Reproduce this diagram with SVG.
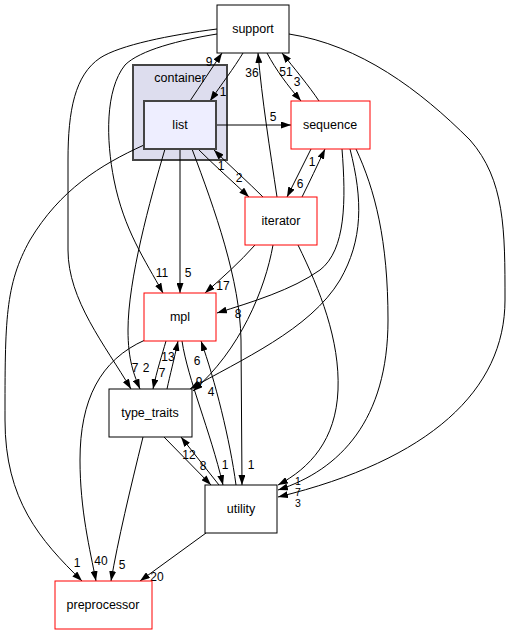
<svg xmlns="http://www.w3.org/2000/svg" width="512" height="635" viewBox="0 0 512 635">
<defs>
<marker id="ah" viewBox="0 0 10 7" refX="10" refY="3.5" markerWidth="10" markerHeight="7" markerUnits="userSpaceOnUse" orient="auto">
<path d="M0,0 L10,3.5 L0,7 z" fill="#000"/>
</marker>
<style>
.e{fill:none;stroke:#000;stroke-width:1;marker-end:url(#ah)}
.n{fill:#fff;stroke:#000;stroke-width:1}
.r{fill:#fff;stroke:#ff0000;stroke-width:1}
.t{font-family:"Liberation Sans",Arial,sans-serif;font-size:12.5px;text-anchor:middle;fill:#000}
.l{font-family:"Liberation Sans",Arial,sans-serif;font-size:12px;text-anchor:middle;fill:#000}
.s{font-family:"Liberation Sans",Arial,sans-serif;font-size:10.5px;text-anchor:middle;fill:#000}
</style>
</defs>
<rect width="512" height="635" fill="#fff"/>
<g id="cluster_container">
<rect x="133" y="65" width="94" height="95" fill="#ddddee" stroke="#444" stroke-width="2"/>
<text class="t" x="180" y="82">container</text>
</g>
<g id="connectors">
<path class="e" d="M190,101 C200,86 212,68 222,53"/>
<path class="e" d="M243,53 C234,68 221,85 210,101"/>
<path class="e" d="M277,197 C270,150 262,100 258,53"/>
<path class="e" d="M267,53 C276,70 288,86 301,101"/>
<path class="e" d="M319,101 C309,86 294,68 282,53"/>
<path class="e" d="M216,125 L291,125"/>
<path class="e" d="M263,197 C248,182 230,166 214,150"/>
<path class="e" d="M198,149 C214,165 232,181 249,197"/>
<path class="e" d="M302,197 C310,181 317,166 325,149"/>
<path class="e" d="M311,149 C303,165 295,181 287,197"/>
<path class="e" d="M180,149 L180,293"/>
<path class="e" d="M217,34 C180,40 140,50 125,65 C105,90 106,140 114,180 C124,230 145,260 163,293"/>
<path class="e" d="M217,29 C170,35 120,45 100,58 C75,75 68,110 68,160 L68,250 C68,300 105,345 131,389"/>
<path class="e" d="M165,149 C150,200 128,280 128,330 C128,360 134,375 140,389"/>
<path class="e" d="M144,145 C100,165 60,190 30,240 C5,285 5,320 5,420 C5,500 40,540 82,581"/>
<path class="e" d="M145,340 C100,360 80,400 80,460 C80,510 90,550 96,581"/>
<path class="e" d="M143,437 C130,490 118,540 111,581"/>
<path class="e" d="M206,533 L140,581"/>
<path class="e" d="M255,245 C240,262 222,278 205,293"/>
<path class="e" d="M342,149 C346,200 346,250 320,270 C292,290 252,302 217,313"/>
<path class="e" d="M350,149 C363,200 363,240 340,280 C310,330 240,360 190,389"/>
<path class="e" d="M273,245 C265,290 240,350 193,391"/>
<path class="e" d="M356,149 C375,190 388,240 388,320 C388,420 340,470 278,490"/>
<path class="e" d="M298,245 C320,290 340,340 338,390 C336,440 310,468 278,485"/>
<path class="e" d="M289,34 C360,45 420,90 470,140 C505,180 505,230 505,300 C505,390 430,460 278,497"/>
<path class="e" d="M166,341 C162,355 157,370 153,389"/>
<path class="e" d="M167,389 C170,375 174,360 178,341"/>
<path class="e" d="M182,341 C188,380 210,430 223,485"/>
<path class="e" d="M236,485 C230,440 215,380 201,341"/>
<path class="e" d="M192,149 C215,210 240,280 241,340 L242,485"/>
<path class="e" d="M164,437 L211,485"/>
<path class="e" d="M219,485 L181,437"/>
<text class="l" x="209" y="66">9</text>
<text class="l" x="223" y="96">1</text>
<text class="l" x="252" y="77">36</text>
<text class="l" x="286" y="76">51</text>
<text class="l" x="297" y="86">3</text>
<text class="l" x="273" y="121">5</text>
<text class="l" x="221" y="170">1</text>
<text class="l" x="239" y="182">2</text>
<text class="l" x="312" y="166">1</text>
<text class="l" x="300" y="188">6</text>
<text class="l" x="188" y="277">5</text>
<text class="l" x="162" y="277">11</text>
<text class="l" x="223" y="290">17</text>
<text class="l" x="238" y="318">8</text>
<text class="l" x="135" y="372">7</text>
<text class="l" x="146" y="372">2</text>
<text class="l" x="162" y="377">7</text>
<text class="l" x="168" y="361">13</text>
<text class="l" x="197" y="365">6</text>
<text class="l" x="199" y="386">9</text>
<text class="l" x="211" y="396">4</text>
<text class="l" x="189" y="459">12</text>
<text class="l" x="203" y="470">8</text>
<text class="l" x="225" y="469">1</text>
<text class="l" x="251" y="469">1</text>
<text class="s" x="298" y="485">1</text>
<text class="s" x="298" y="496">7</text>
<text class="s" x="298" y="507">3</text>
<text class="l" x="77" y="567">1</text>
<text class="l" x="101" y="565">40</text>
<text class="l" x="122" y="569">5</text>
<text class="l" x="157" y="581">20</text>
</g>
<g id="support"><rect class="n" x="217" y="5" width="72" height="48"/><text class="t" x="253" y="33">support</text></g>
<g id="list"><rect x="144" y="101" width="72" height="48" fill="#eeeeff" stroke="#444" stroke-width="2"/><text class="t" x="180" y="129">list</text></g>
<g id="sequence"><rect class="r" x="291" y="101" width="79" height="48"/><text class="t" x="330" y="129">sequence</text></g>
<g id="iterator"><rect class="r" x="245" y="197" width="72" height="48"/><text class="t" x="281" y="225">iterator</text></g>
<g id="mpl"><rect class="r" x="144" y="293" width="72" height="48"/><text class="t" x="180" y="321">mpl</text></g>
<g id="type_traits"><rect class="n" x="109" y="389" width="83" height="48"/><text class="t" x="150" y="417">type_traits</text></g>
<g id="utility"><rect class="n" x="205" y="485" width="72" height="48"/><text class="t" x="241" y="513">utility</text></g>
<g id="preprocessor"><rect class="r" x="55" y="581" width="97" height="48"/><text class="t" x="103" y="609">preprocessor</text></g>
</svg>
